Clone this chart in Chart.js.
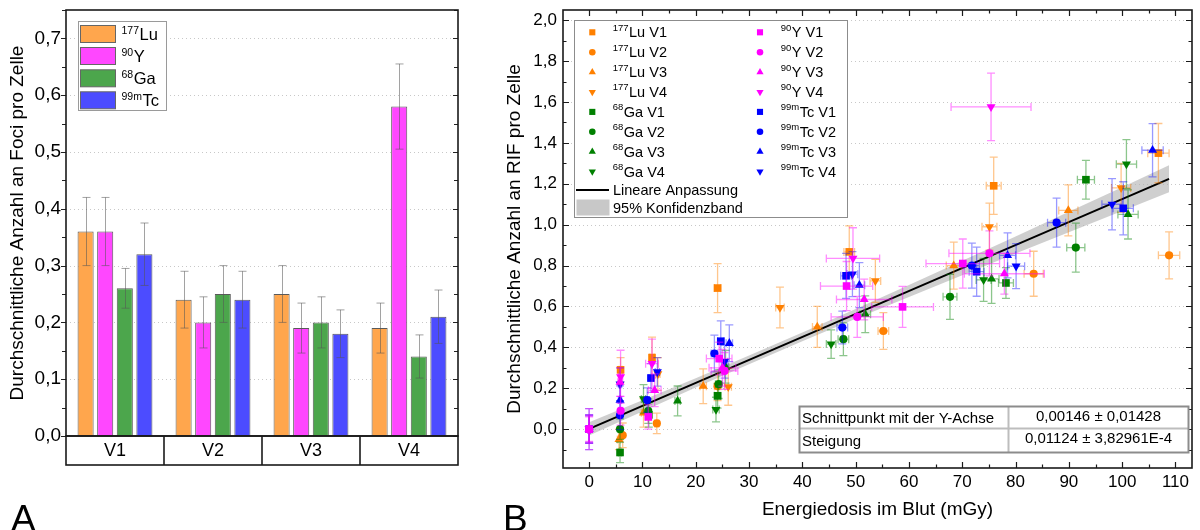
<!DOCTYPE html>
<html>
<head>
<meta charset="utf-8">
<script src="https://cdn.jsdelivr.net/npm/chart.js@4.4.1/dist/chart.umd.min.js"></script>
<style>
html, body { margin: 0; padding: 0; background: #fff; }
#wrap { position: relative; width: 1200px; height: 530px; overflow: hidden; }
canvas { position: absolute; top: 0; }
#barChart { left: 0; }
#fitChart { left: 480px; }
.panel { position: absolute; font: 37px "Liberation Sans", Arial, sans-serif; line-height: 37px; }
</style>
</head>
<body>
<div id="wrap">
  <canvas id="barChart" width="480" height="530"></canvas>
  <canvas id="fitChart" width="720" height="530"></canvas>
  <div class="panel" style="left:11px; top:500px">A</div>
  <div class="panel" style="left:503px; top:500px">B</div>
</div>
<script>
// ---------- Panel A: Foci pro Zelle ----------
const versuche = ['V1', 'V2', 'V3', 'V4'];
const luMean = [0.36, 0.24, 0.25, 0.19];
const luErr  = [0.06, 0.05, 0.05, 0.044];
const yMean  = [0.36, 0.20, 0.19, 0.58];
const yErr   = [0.06, 0.045, 0.044, 0.075];
const gaMean = [0.26, 0.25, 0.20, 0.14];
const gaErr  = [0.035, 0.05, 0.045, 0.038];
const tcMean = [0.32, 0.24, 0.18, 0.21];
const tcErr  = [0.055, 0.05, 0.042, 0.047];
const fociTicks = [0, 0.1, 0.2, 0.3, 0.4, 0.5, 0.6, 0.7];

// ---------- Panel B: RIF vs. Energiedosis ----------
// each point: [dose mGy, RIF, dose error, RIF error]
const luV1 = [[5.9, 0.29, 0.3, 0.06], [11.8, 0.35, 0.4, 0.10], [24.1, 0.69, 0.6, 0.12], [48.8, 0.867, 1.0, 0.127], [75.9, 1.19, 1.4, 0.14], [106.8, 1.35, 2.0, 0.145]];
const luV2 = [[6.3, -0.03, 0.3, 0.06], [12.7, 0.028, 0.4, 0.05], [24.1, 0.21, 0.6, 0.07], [55.2, 0.48, 1.0, 0.09], [83.4, 0.76, 1.8, 0.11], [108.8, 0.85, 2.0, 0.115]];
const luV3 = [[5.6, -0.05, 0.3, 0.05], [10.2, 0.08, 0.4, 0.07], [21.4, 0.21, 0.6, 0.085], [42.8, 0.50, 0.9, 0.10], [68.4, 0.80, 1.4, 0.115], [89.9, 1.07, 1.8, 0.125]];
const luV4 = [[12.9, 0.27, 0.4, 0.08], [26.1, 0.207, 0.6, 0.09], [35.8, 0.595, 0.8, 0.10], [53.7, 0.725, 1.0, 0.105], [75.1, 0.99, 1.4, 0.115], [99.8, 1.18, 1.8, 0.12]];
const gaV1 = [[5.8, -0.114, 0.3, 0.05], [11.2, 0.07, 0.4, 0.06], [24.1, 0.163, 0.6, 0.06], [78.2, 0.715, 1.4, 0.075], [93.2, 1.22, 1.6, 0.095]];
const gaV2 = [[5.8, 0.0, 0.3, 0.05], [11.1, 0.088, 0.4, 0.06], [24.3, 0.22, 0.6, 0.07], [47.7, 0.44, 1.0, 0.08], [67.7, 0.647, 1.3, 0.11], [91.3, 0.888, 1.7, 0.12]];
const gaV3 = [[16.6, 0.138, 0.5, 0.073], [25.6, 0.305, 0.6, 0.08], [51.8, 0.562, 1.0, 0.09], [75.5, 0.735, 1.4, 0.12], [101.1, 1.05, 1.9, 0.12]];
const gaV4 = [[10.2, 0.148, 0.4, 0.07], [23.8, 0.096, 0.6, 0.06], [45.4, 0.416, 0.9, 0.07], [74.0, 0.73, 1.4, 0.105], [100.8, 1.296, 1.9, 0.12]];
const yV1  = [[0, 0, 0.2, 0.06], [11.1, 0.06, 0.5, 0.06], [24.4, 0.345, 2.4, 0.08], [48.3, 0.70, 4.9, 0.12], [58.8, 0.598, 5.8, 0.10], [70.1, 0.81, 6.9, 0.12]];
const yV2  = [[0, 0, 0.2, 0.07], [5.9, 0.09, 0.4, 0.07], [25.4, 0.285, 2.5, 0.09], [50.3, 0.549, 4.9, 0.10], [75.1, 0.86, 7.6, 0.11]];
const yV3  = [[0, 0, 0.2, 0.065], [5.8, 0.23, 0.4, 0.07], [12.3, 0.19, 1.2, 0.08], [25.0, 0.30, 2.5, 0.09], [51.6, 0.634, 5.2, 0.10], [77.9, 0.76, 7.5, 0.10]];
const yV4  = [[0, 0, 0.2, 0.10], [5.9, 0.256, 0.4, 0.13], [11.8, 0.32, 1.2, 0.12], [49.5, 0.835, 5.0, 0.15], [75.4, 1.576, 7.5, 0.165]];
const tcV1 = [[0, 0, 0.2, 0.07], [11.6, 0.25, 0.4, 0.07], [24.7, 0.43, 0.6, 0.10], [48.2, 0.75, 1.0, 0.11], [72.7, 0.77, 1.4, 0.12], [100.2, 1.08, 1.9, 0.13]];
const tcV2 = [[0, 0, 0.2, 0.065], [5.8, 0.068, 0.3, 0.07], [10.9, 0.142, 0.4, 0.06], [23.5, 0.37, 0.6, 0.09], [47.5, 0.497, 1.0, 0.08], [71.8, 0.80, 1.4, 0.11], [87.7, 1.01, 1.7, 0.12]];
const tcV3 = [[0, 0, 0.2, 0.07], [5.8, 0.142, 0.3, 0.07], [26.3, 0.42, 0.6, 0.09], [50.7, 0.704, 1.0, 0.11], [78.5, 0.85, 1.5, 0.11], [105.7, 1.364, 2.0, 0.13]];
const tcV4 = [[0, 0, 0.2, 0.10], [5.8, 0.22, 0.3, 0.08], [12.8, 0.28, 0.4, 0.07], [25.4, 0.33, 0.6, 0.08], [49.4, 0.758, 1.0, 0.11], [80.1, 0.797, 1.6, 0.11], [98.1, 1.10, 1.9, 0.125]];

// linear fit (from the table) and 95% band
const fitIntercept = '0,00146 ± 0,01428';
const fitSlope = '0,01124 ± 3,82961E-4';
const fitX = [0, 108.8];
const fitY = [0.0015, 1.2244];
const bandX    = [0, 10, 20, 30, 40, 50, 60, 70, 80, 90, 100, 108.8];
const bandLow  = [-0.0305, 0.0869, 0.2033, 0.3177, 0.4301, 0.5395, 0.6469, 0.7533, 0.8587, 0.9631, 1.0675, 1.1584];
const bandHigh = [0.0335, 0.1409, 0.2493, 0.3597, 0.4721, 0.5875, 0.7049, 0.8233, 0.9427, 1.0631, 1.1835, 1.2904];
const doseTicks = [0, 10, 20, 30, 40, 50, 60, 70, 80, 90, 100, 110];
const rifTicks = [0, 0.2, 0.4, 0.6, 0.8, 1.0, 1.2, 1.4, 1.6, 1.8, 2.0];

const FONT = '"Liberation Sans", Arial, Helvetica, sans-serif';
Chart.defaults.font.family = FONT;
Chart.defaults.color = '#000';

const comma1 = v => Number(v).toFixed(1).replace('.', ',');

function drawIso(ctx, sup, main, x, y, supPx, mainPx, raise) {
    ctx.font = supPx + 'px ' + FONT;
    ctx.fillText(sup, x, y - raise);
    const w = ctx.measureText(sup).width;
    ctx.font = mainPx + 'px ' + FONT;
    ctx.fillText(main, x + w + 0.5, y);
}

function drawMarker(ctx, style, rot, x, y, r) {
    ctx.beginPath();
    if (style === 'circle') {
        ctx.arc(x, y, r, 0, Math.PI * 2);
    } else if (style === 'rect') {
        const s = r * Math.SQRT1_2;
        ctx.rect(x - s, y - s, 2 * s, 2 * s);
    } else {
        const a0 = rot * Math.PI / 180;
        for (let k = 0; k < 3; k++) {
            const a = a0 + k * 2 * Math.PI / 3;
            const px = x + Math.sin(a) * r, py = y - Math.cos(a) * r;
            if (k) ctx.lineTo(px, py); else ctx.moveTo(px, py);
        }
        ctx.closePath();
    }
    ctx.fill();
}

// ---------- Chart A ----------
const barSets = [
    { iso: ['177', 'Lu'], data: luMean, err: luErr, color: '#ffa64d' },
    { iso: ['90', 'Y'], data: yMean, err: yErr, color: '#ff47ff' },
    { iso: ['68', 'Ga'], data: gaMean, err: gaErr, color: '#4ca64c' },
    { iso: ['99m', 'Tc'], data: tcMean, err: tcErr, color: '#4c4cff' }
];

const barDecor = {
    id: 'barDecor',
    beforeDatasetsDraw(chart) {
        const { ctx, chartArea: a, scales: { y } } = chart;
        ctx.save();
        ctx.strokeStyle = '#c8c8c8';
        ctx.lineWidth = 1;
        ctx.setLineDash([1, 3]);
        fociTicks.slice(1).forEach(v => {
            const py = Math.round(y.getPixelForValue(v)) + 0.5;
            ctx.beginPath(); ctx.moveTo(a.left, py); ctx.lineTo(a.right, py); ctx.stroke();
        });
        ctx.restore();
    },
    afterDatasetsDraw(chart) {
        const { ctx, scales: { y } } = chart;
        ctx.save();
        ctx.strokeStyle = 'rgba(85,85,85,0.55)';
        ctx.lineWidth = 1;
        chart.data.datasets.forEach((ds, i) => {
            chart.getDatasetMeta(i).data.forEach((bar, j) => {
                const top = y.getPixelForValue(ds.data[j] + ds.err[j]);
                const bot = y.getPixelForValue(ds.data[j] - ds.err[j]);
                const x = Math.round(bar.x) + 0.5;
                ctx.beginPath();
                ctx.moveTo(x, top); ctx.lineTo(x, bot);
                ctx.moveTo(x - 4, top); ctx.lineTo(x + 4, top);
                ctx.moveTo(x - 4, bot); ctx.lineTo(x + 4, bot);
                ctx.stroke();
            });
        });
        ctx.restore();
    },
    afterDraw(chart) {
        const { ctx, chartArea: a, scales: { y } } = chart;
        ctx.save();
        // ticks
        ctx.strokeStyle = '#222';
        ctx.lineWidth = 1.2;
        for (let v = 0; v <= 0.75 + 1e-9; v += 0.05) {
            const py = Math.round(y.getPixelForValue(v)) + 0.5;
            const len = Math.abs(v * 10 - Math.round(v * 10)) < 1e-6 ? 5 : 4;
            ctx.beginPath();
            ctx.moveTo(a.left - len, py); ctx.lineTo(a.left, py);
            ctx.moveTo(a.right - len, py); ctx.lineTo(a.right, py);
            ctx.stroke();
        }
        // frame + category row
        ctx.lineWidth = 1.6;
        ctx.strokeStyle = '#1a1a1a';
        ctx.strokeRect(a.left, a.top, a.right - a.left, a.bottom - a.top);
        ctx.strokeRect(a.left, a.bottom, a.right - a.left, 29);
        const w = (a.right - a.left) / versuche.length;
        for (let k = 1; k < versuche.length; k++) {
            const px = Math.round(a.left + k * w);
            ctx.beginPath(); ctx.moveTo(px, a.bottom); ctx.lineTo(px, a.bottom + 29); ctx.stroke();
        }
        // legend
        ctx.fillStyle = '#fff';
        ctx.fillRect(78, 21, 89, 90);
        ctx.strokeStyle = '#9a9a9a';
        ctx.lineWidth = 1;
        ctx.strokeRect(78.5, 21.5, 88, 89);
        const rows = [34, 56, 78.3, 100.3];
        barSets.forEach((s, i) => {
            const ry = rows[i];
            ctx.fillStyle = s.color;
            ctx.fillRect(80.5, ry - 8.5, 35, 17);
            ctx.strokeStyle = '#666';
            ctx.strokeRect(80.5, ry - 8.5, 35, 17);
            ctx.fillStyle = '#000';
            ctx.textBaseline = 'alphabetic';
            ctx.textAlign = 'left';
            drawIso(ctx, s.iso[0], s.iso[1], 121.5, ry + 5.8, 10.5, 16.5, 6.3);
        });
        ctx.restore();
    }
};

new Chart(document.getElementById('barChart'), {
    type: 'bar',
    data: {
        labels: versuche,
        datasets: barSets.map(s => ({
            label: s.iso.join(''),
            data: s.data,
            err: s.err,
            backgroundColor: s.color,
            borderColor: '#5a5a5a',
            borderWidth: 1,
            categoryPercentage: 0.8,
            barPercentage: 0.82
        }))
    },
    options: {
        responsive: false,
        animation: false,
        devicePixelRatio: 1,
        layout: { padding: { left: 0, right: 22, top: 10, bottom: 0 } },
        plugins: { legend: { display: false }, tooltip: { enabled: false } },
        scales: {
            x: {
                grid: { display: false, drawTicks: false },
                border: { display: false },
                ticks: { font: { size: 18 }, padding: 4, maxRotation: 0 },
                afterFit: s => { s.height = 94; s.paddingLeft = 0; s.paddingRight = 0; }
            },
            y: {
                min: 0,
                max: 0.75,
                grid: { display: false, drawTicks: false },
                border: { display: false },
                afterBuildTicks: s => { s.ticks = fociTicks.map(v => ({ value: v })); },
                ticks: { callback: comma1, font: { size: 19 }, padding: 5 },
                title: {
                    display: true,
                    text: 'Durchschnittliche Anzahl an Foci pro Zelle',
                    font: { size: 19 },
                    padding: { top: 6.6, bottom: 0 }
                },
                afterFit: s => { s.width = 66; s.paddingTop = 0; s.paddingBottom = 0; }
            }
        }
    },
    plugins: [barDecor]
});

// ---------- Chart B ----------
const LU = '#ff8000', GA = '#008000', YY = '#ff00ff', TC = '#0000ff';
const errCol = { [LU]: 'rgba(255,128,0,0.45)', [GA]: 'rgba(0,128,0,0.45)', [YY]: 'rgba(255,0,255,0.45)', [TC]: 'rgba(0,0,255,0.4)' };
const shapes = [
    { style: 'rect', rot: 0, r: 5.4 },
    { style: 'circle', rot: 0, r: 4.1 },
    { style: 'triangle', rot: 0, r: 5.2 },
    { style: 'triangle', rot: 180, r: 5.2 }
];
const series = [
    { iso: ['177', 'Lu'], v: 'V1', pts: luV1, color: LU, shape: 0, order: 4 },
    { iso: ['177', 'Lu'], v: 'V2', pts: luV2, color: LU, shape: 1, order: 4 },
    { iso: ['177', 'Lu'], v: 'V3', pts: luV3, color: LU, shape: 2, order: 4 },
    { iso: ['177', 'Lu'], v: 'V4', pts: luV4, color: LU, shape: 3, order: 4 },
    { iso: ['68', 'Ga'], v: 'V1', pts: gaV1, color: GA, shape: 0, order: 3 },
    { iso: ['68', 'Ga'], v: 'V2', pts: gaV2, color: GA, shape: 1, order: 3 },
    { iso: ['68', 'Ga'], v: 'V3', pts: gaV3, color: GA, shape: 2, order: 3 },
    { iso: ['68', 'Ga'], v: 'V4', pts: gaV4, color: GA, shape: 3, order: 3 },
    { iso: ['90', 'Y'], v: 'V1', pts: yV1, color: YY, shape: 0, order: 1 },
    { iso: ['90', 'Y'], v: 'V2', pts: yV2, color: YY, shape: 1, order: 1 },
    { iso: ['90', 'Y'], v: 'V3', pts: yV3, color: YY, shape: 2, order: 1 },
    { iso: ['90', 'Y'], v: 'V4', pts: yV4, color: YY, shape: 3, order: 1 },
    { iso: ['99m', 'Tc'], v: 'V1', pts: tcV1, color: TC, shape: 0, order: 2 },
    { iso: ['99m', 'Tc'], v: 'V2', pts: tcV2, color: TC, shape: 1, order: 2 },
    { iso: ['99m', 'Tc'], v: 'V3', pts: tcV3, color: TC, shape: 2, order: 2 },
    { iso: ['99m', 'Tc'], v: 'V4', pts: tcV4, color: TC, shape: 3, order: 2 }
];

const pointSets = series.map(s => {
    const sh = shapes[s.shape];
    return {
        label: s.iso.join('') + ' ' + s.v,
        data: s.pts.map(p => ({ x: p[0], y: p[1] })),
        err: s.pts.map(p => [p[2], p[3]]),
        errColor: errCol[s.color],
        backgroundColor: s.color,
        borderColor: s.color,
        borderWidth: 0,
        pointStyle: sh.style,
        pointRotation: sh.rot,
        pointRadius: sh.r,
        order: s.order
    };
});

const fitSets = [
    {
        type: 'line', label: 'Lineare Anpassung',
        data: fitX.map((x, i) => ({ x, y: fitY[i] })),
        showLine: true, borderColor: '#000', borderWidth: 2, pointRadius: 0, fill: false, order: 8
    },
    {
        type: 'line', label: 'band high',
        data: bandX.map((x, i) => ({ x, y: bandHigh[i] })),
        showLine: true, borderWidth: 0, borderColor: 'rgba(0,0,0,0)', pointRadius: 0,
        fill: '+1', backgroundColor: 'rgba(175,175,175,0.6)', order: 9
    },
    {
        type: 'line', label: 'band low',
        data: bandX.map((x, i) => ({ x, y: bandLow[i] })),
        showLine: true, borderWidth: 0, borderColor: 'rgba(0,0,0,0)', pointRadius: 0, fill: false, order: 10
    }
];

const fitDecor = {
    id: 'fitDecor',
    beforeDatasetsDraw(chart) {
        const { ctx, chartArea: a, scales: { y } } = chart;
        ctx.save();
        ctx.strokeStyle = '#c8c8c8';
        ctx.lineWidth = 1;
        ctx.setLineDash([1, 3]);
        rifTicks.forEach(v => {
            const py = Math.round(y.getPixelForValue(v)) + 0.5;
            ctx.beginPath(); ctx.moveTo(a.left, py); ctx.lineTo(a.right, py); ctx.stroke();
        });
        ctx.restore();
    },
    beforeDatasetDraw(chart, args) {
        const ds = chart.data.datasets[args.index];
        if (!ds.err) return;
        const { ctx, scales: { x, y } } = chart;
        ctx.save();
        ctx.strokeStyle = ds.errColor;
        ctx.lineWidth = 1.3;
        ds.err.forEach(([dx, dy], j) => {
            const p = ds.data[j];
            const px = x.getPixelForValue(p.x), py = y.getPixelForValue(p.y);
            const x0 = x.getPixelForValue(p.x - dx), x1 = x.getPixelForValue(p.x + dx);
            const y0 = y.getPixelForValue(p.y - dy), y1 = y.getPixelForValue(p.y + dy);
            ctx.beginPath();
            ctx.moveTo(px, y0); ctx.lineTo(px, y1);
            ctx.moveTo(px - 4, y0); ctx.lineTo(px + 4, y0);
            ctx.moveTo(px - 4, y1); ctx.lineTo(px + 4, y1);
            ctx.moveTo(x0, py); ctx.lineTo(x1, py);
            ctx.moveTo(x0, py - 4); ctx.lineTo(x0, py + 4);
            ctx.moveTo(x1, py - 4); ctx.lineTo(x1, py + 4);
            ctx.stroke();
        });
        ctx.restore();
    },
    afterDraw(chart) {
        const { ctx, chartArea: a, scales: { x, y } } = chart;
        ctx.save();
        // inward ticks on all four sides
        ctx.strokeStyle = '#1a1a1a';
        ctx.lineWidth = 1.2;
        for (let v = 0; v <= 110; v += 5) {
            const px = Math.round(x.getPixelForValue(v)) + 0.5;
            const len = v % 10 === 0 ? 6 : 3.5;
            ctx.beginPath();
            ctx.moveTo(px, a.bottom); ctx.lineTo(px, a.bottom - len);
            ctx.moveTo(px, a.top); ctx.lineTo(px, a.top + len);
            ctx.stroke();
        }
        for (let k = -1; k <= 20; k++) {
            const py = Math.round(y.getPixelForValue(k / 10)) + 0.5;
            const len = k % 2 === 0 ? 6 : 3.5;
            ctx.beginPath();
            ctx.moveTo(a.left, py); ctx.lineTo(a.left + len, py);
            ctx.moveTo(a.right, py); ctx.lineTo(a.right - len, py);
            ctx.stroke();
        }
        ctx.lineWidth = 1.6;
        ctx.strokeRect(a.left, a.top, a.right - a.left, a.bottom - a.top);

        // legend
        ctx.fillStyle = '#fff';
        ctx.fillRect(94, 20, 273, 197);
        ctx.strokeStyle = '#8c8c8c';
        ctx.lineWidth = 1;
        ctx.strokeRect(94.5, 20.5, 273, 197);
        ctx.textAlign = 'left';
        ctx.textBaseline = 'alphabetic';
        series.forEach((s, i) => {
            const col = i < 8 ? 0 : 1;
            const ry = 32.3 + (i % 8) * 19.9;
            const mx = col ? 280 : 112.3;
            const tx = col ? 300.7 : 132.7;
            const sh = shapes[s.shape];
            ctx.fillStyle = s.color;
            drawMarker(ctx, sh.style, sh.rot, mx, ry, sh.r * 0.8);
            ctx.fillStyle = '#000';
            drawIso(ctx, s.iso[0], s.iso[1] + ' ' + s.v, tx, ry + 5, 9.5, 14.5, 6.6);
        });
        ctx.strokeStyle = '#000';
        ctx.lineWidth = 2;
        ctx.beginPath(); ctx.moveTo(96, 190); ctx.lineTo(129, 190); ctx.stroke();
        ctx.fillStyle = '#c8c8c8';
        ctx.fillRect(96.5, 199.5, 33, 16);
        ctx.fillStyle = '#000';
        ctx.font = '14.5px ' + FONT;
        ctx.fillText('Lineare Anpassung', 133, 195.3);
        ctx.fillText('95% Konfidenzband', 133, 212.5);

        // fit table
        ctx.fillStyle = '#fff';
        ctx.fillRect(319, 406, 389, 46);
        ctx.strokeStyle = '#bdbdbd';
        ctx.beginPath();
        ctx.moveTo(319, 428.5); ctx.lineTo(708, 428.5);
        ctx.moveTo(528.5, 406); ctx.lineTo(528.5, 452);
        ctx.stroke();
        ctx.strokeStyle = '#8c8c8c';
        ctx.strokeRect(319.5, 406.5, 389, 46);
        ctx.fillStyle = '#000';
        ctx.font = '15px ' + FONT;
        ctx.fillText('Schnittpunkt mit der Y-Achse', 322, 423.3);
        ctx.fillText('Steigung', 322, 446);
        ctx.textAlign = 'center';
        ctx.fillText(fitIntercept, 618.5, 420.7);
        ctx.fillText(fitSlope, 618.5, 442.7);
        ctx.restore();
    }
};

new Chart(document.getElementById('fitChart'), {
    type: 'scatter',
    data: { datasets: pointSets.concat(fitSets) },
    options: {
        responsive: false,
        animation: false,
        devicePixelRatio: 1,
        layout: { padding: { left: 0, right: 8, top: 10, bottom: 0 } },
        plugins: { legend: { display: false }, tooltip: { enabled: false } },
        scales: {
            x: {
                type: 'linear',
                min: -4.9,
                max: 113.1,
                grid: { display: false, drawTicks: false },
                border: { display: false },
                afterBuildTicks: s => { s.ticks = doseTicks.map(v => ({ value: v })); },
                ticks: { callback: v => String(v), font: { size: 17 }, padding: 4, maxRotation: 0, autoSkip: false },
                title: {
                    display: true,
                    text: 'Energiedosis im Blut (mGy)',
                    font: { size: 19 },
                    padding: { top: 0, bottom: 8.6 }
                },
                afterFit: s => { s.height = 62; s.paddingLeft = 0; s.paddingRight = 0; }
            },
            y: {
                min: -0.19,
                max: 2.05,
                grid: { display: false, drawTicks: false },
                border: { display: false },
                afterBuildTicks: s => { s.ticks = rifTicks.map(v => ({ value: v })); },
                ticks: { callback: comma1, font: { size: 17 }, padding: 6 },
                title: {
                    display: true,
                    text: 'Durchschnittliche Anzahl an RIF pro Zelle',
                    font: { size: 19 },
                    padding: { top: 23.6, bottom: 0 }
                },
                afterFit: s => { s.width = 83; s.paddingTop = 0; s.paddingBottom = 0; }
            }
        }
    },
    plugins: [fitDecor]
});
</script>
</body>
</html>
